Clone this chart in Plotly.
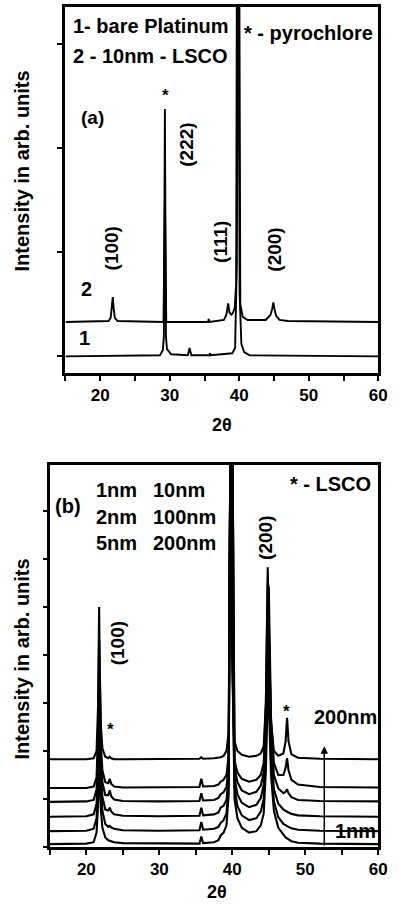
import plotly.graph_objects as go

# ---------------- Panel (a) data ----------------
# Trace 1: bare Platinum
a_x_pt = [15, 28.6, 29.0, 29.15, 29.3, 29.45, 29.6, 30.2, 32.6, 32.85, 33.1, 35.7, 35.8, 35.9,
          39.0, 39.4, 39.65, 39.85, 40.05, 40.3, 40.7, 41.5, 60]
a_y_pt = [0.0, 0.01, 0.06, 0.19, 2.38, 0.19, 0.07, 0.02, 0.01, 0.08, 0.01, 0.01, 0.03, 0.01,
          0.03, 0.08, 0.9, 5.0, 0.6, 0.12, 0.04, 0.01, 0.0]
# Trace 2: 10nm LSCO
a_x_lsco = [15, 21.2, 21.5, 21.65, 21.8, 21.95, 22.1, 22.5, 29.1, 29.3, 29.5, 35.5, 35.6, 35.7,
            37.8, 38.15, 38.4, 38.6, 38.85, 39.1, 39.35, 39.55, 39.7, 39.95, 40.15, 40.5, 41.2,
            43.8, 44.5, 44.75, 44.9, 45.05, 45.3, 45.8, 47, 60]
a_y_lsco = [0.33, 0.34, 0.37, 0.45, 0.57, 0.45, 0.37, 0.34, 0.33, 1.5, 0.33, 0.33, 0.36, 0.33,
            0.35, 0.40, 0.51, 0.42, 0.40, 0.42, 0.47, 0.7, 5.0, 5.0, 0.5, 0.38, 0.35,
            0.35, 0.40, 0.46, 0.52, 0.46, 0.39, 0.35, 0.34, 0.33]

# ---------------- Panel (b) data ----------------
b_x = [15, 20, 21.0, 21.4, 21.6, 21.75, 21.85, 22.0, 22.2, 22.6, 23.0, 23.2, 23.4, 23.8, 25, 30,
       35.5, 35.75, 36.0, 37.5, 38.1, 38.4, 38.8, 39.2, 39.5, 39.75, 40.0, 40.3, 40.7, 41.3, 42.3,
       43.3, 43.9, 44.3, 44.6, 44.85, 45.0, 45.3, 45.7, 46.3, 47.0, 47.3, 47.5, 47.7, 48.1, 49.0,
       52, 60]
b_y_200nm = [1.83, 1.83, 1.85, 2.0, 2.9, 5.0, 3.6, 2.5, 2.05, 1.88, 1.85, 1.88, 1.85, 1.83, 1.83, 1.84,
             1.84, 1.87, 1.84, 1.85, 1.86, 1.87, 1.9, 2.0, 2.4, 9.0, 9.0, 2.2, 2.0, 1.92, 1.88,
             1.9, 1.95, 2.1, 3.0, 5.83, 4.6, 2.6, 2.0, 1.9, 1.95, 2.2, 2.69, 2.2, 1.93, 1.86,
             1.84, 1.83]
b_y_100nm = [1.23, 1.23, 1.26, 1.45, 2.4, 4.3, 3.5, 2.1, 1.6, 1.35, 1.33, 1.42, 1.32, 1.26, 1.24, 1.24,
             1.25, 1.42, 1.26, 1.27, 1.3, 1.36, 1.4, 1.5, 1.9, 9.0, 4.0, 1.8, 1.55, 1.42, 1.36,
             1.4, 1.5, 1.75, 3.0, 5.5, 5.4, 2.7, 1.75, 1.5, 1.5, 1.65, 1.85, 1.6, 1.4, 1.3,
             1.25, 1.24]
b_y_10nm = [0.94, 0.95, 0.98, 1.2, 2.0, 3.4, 3.0, 1.8, 1.35, 1.08, 1.08, 1.18, 1.06, 0.99, 0.96, 0.95,
            0.96, 1.12, 0.97, 0.98, 1.02, 1.1, 1.14, 1.25, 1.7, 9.0, 9.0, 1.65, 1.35, 1.18, 1.1,
            1.15, 1.28, 1.55, 2.7, 5.0, 4.7, 2.4, 1.5, 1.22, 1.12, 1.15, 1.2, 1.12, 1.04, 0.98,
            0.96, 0.95]
b_y_5nm = [0.63, 0.64, 0.68, 0.9, 1.7, 3.0, 2.6, 1.5, 1.05, 0.78, 0.76, 0.82, 0.74, 0.68, 0.65, 0.64,
           0.65, 0.82, 0.66, 0.68, 0.72, 0.82, 0.86, 0.98, 1.5, 9.0, 4.0, 1.45, 1.1, 0.92, 0.83,
           0.88, 1.02, 1.3, 2.4, 4.2, 4.0, 2.1, 1.2, 0.9, 0.78, 0.75, 0.74, 0.72, 0.69, 0.66,
           0.64, 0.63]
b_y_2nm = [0.33, 0.34, 0.38, 0.6, 1.3, 2.5, 2.2, 1.15, 0.75, 0.48, 0.42, 0.44, 0.41, 0.38, 0.35, 0.34,
           0.35, 0.52, 0.36, 0.38, 0.42, 0.5, 0.56, 0.7, 1.3, 9.0, 9.0, 1.25, 0.85, 0.66, 0.56,
           0.6, 0.74, 1.0, 2.0, 3.8, 3.6, 1.8, 0.95, 0.62, 0.48, 0.45, 0.44, 0.42, 0.39, 0.36,
           0.34, 0.33]
b_y_1nm = [0.06, 0.07, 0.1, 0.3, 0.85, 1.6, 1.45, 0.75, 0.4, 0.2, 0.14, 0.13, 0.12, 0.1, 0.08, 0.07,
           0.07, 0.22, 0.08, 0.1, 0.14, 0.24, 0.3, 0.45, 1.1, 9.0, 4.0, 1.0, 0.6, 0.4, 0.3,
           0.33, 0.45, 0.7, 1.6, 3.2, 3.0, 1.5, 0.75, 0.4, 0.25, 0.2, 0.18, 0.16, 0.12, 0.09,
           0.07, 0.06]
b_series = [b_y_1nm, b_y_2nm, b_y_5nm, b_y_10nm, b_y_100nm, b_y_200nm]

x_tickvals = [15, 20, 25, 30, 35, 40, 45, 50, 55, 60]
x_ticktext = ["", "20", "", "30", "", "40", "", "50", "", "60"]

W, H = 400, 904
FONT = "Liberation Sans"


def px(x):
    return x / W


def py(y):
    return 1 - y / H


fig = go.Figure()
line_a = dict(color="black", width=1.9)
fig.add_trace(go.Scatter(x=a_x_pt, y=a_y_pt, mode="lines", line=line_a,
                         xaxis="x", yaxis="y", showlegend=False, hoverinfo="skip"))
fig.add_trace(go.Scatter(x=a_x_lsco, y=a_y_lsco, mode="lines", line=line_a,
                         xaxis="x", yaxis="y", showlegend=False, hoverinfo="skip"))
for ys in b_series:
    fig.add_trace(go.Scatter(x=b_x, y=ys, mode="lines", line=dict(color="black", width=2.1),
                             xaxis="x2", yaxis="y2", showlegend=False, hoverinfo="skip"))

axis_common = dict(showline=True, mirror=True, linecolor="black", linewidth=2.5,
                   showgrid=False, zeroline=False, ticks="outside", tickcolor="black",
                   tickwidth=2)
xfont = dict(family=FONT, size=17, color="black", weight="bold")

fig.update_layout(
    width=W, height=H, autosize=False,
    margin=dict(l=0, r=0, t=0, b=0),
    paper_bgcolor="white", plot_bgcolor="white",
    showlegend=False,
    xaxis=dict(domain=[px(67), px(387)], anchor="y", range=[15, 60],
               tickmode="array", tickvals=x_tickvals, ticktext=x_ticktext,
               ticklen=5, tickfont=xfont, **axis_common),
    yaxis=dict(domain=[py(373), py(7)], anchor="x", range=[-0.16, 3.36],
               tickmode="array", tickvals=[0, 1, 2, 3], showticklabels=False,
               ticklen=6, **axis_common),
    xaxis2=dict(domain=[px(51), px(387)], anchor="y2", range=[15, 60],
                tickmode="array", tickvals=x_tickvals, ticktext=x_ticktext,
                ticklen=5, tickfont=xfont, **axis_common),
    yaxis2=dict(domain=[py(847), py(465)], anchor="x2", range=[0, 7.96],
                tickmode="array", tickvals=[0, 1, 2, 3, 4, 5, 6, 7], showticklabels=False,
                ticklen=4, **axis_common),
)

annots = []


def txt(text, x, y, size=20, xanchor="left", angle=0):
    annots.append(dict(text=text, x=px(x), y=py(y), xref="paper", yref="paper",
                       xanchor=xanchor, yanchor="middle", showarrow=False, textangle=angle,
                       font=dict(family=FONT, size=size, color="black", weight="bold")))


# Panel (a)
txt("1- bare Platinum", 73, 26)
txt("2 - 10nm - LSCO", 73, 56)
txt("* - pyrochlore", 248, 33, size=20)
txt("(a)", 81, 117, size=19)
txt("*", 169, 95, size=17, xanchor="center")
txt("(222)", 190, 145, size=19, xanchor="center", angle=-90)
txt("(100)", 115, 248, size=19, xanchor="center", angle=-90)
txt("(111)", 225, 242, size=19, xanchor="center", angle=-90)
txt("(200)", 280, 250, size=19, xanchor="center", angle=-90)
txt("2", 88, 289, size=20, xanchor="center")
txt("1", 86, 338, size=20, xanchor="center")
txt("Intensity in arb. units", 23, 171, size=20, xanchor="center", angle=-90)
txt("2θ", 227, 425, size=18, xanchor="center")

# Panel (b)
txt("(b)", 54, 506, size=20)
txt("1nm", 96, 490, size=20)
txt("10nm", 154, 490, size=20)
txt("2nm", 96, 517, size=20)
txt("100nm", 154, 517, size=20)
txt("5nm", 96, 543, size=20)
txt("200nm", 154, 543, size=20)
txt("* - LSCO", 382, 484, size=20, xanchor="right")
txt("(200)", 271, 538, size=19, xanchor="center", angle=-90)
txt("(100)", 120, 643, size=19, xanchor="center", angle=-90)
txt("*", 113, 729, size=17, xanchor="center")
txt("*", 293, 711, size=17, xanchor="center")
txt("200nm", 319, 717, size=20)
txt("1nm", 341, 831, size=20)
txt("Intensity in arb. units", 23, 659, size=20, xanchor="center", angle=-90)
txt("2θ", 222, 892, size=18, xanchor="center")

# arrow from 1nm to 200nm
annots.append(dict(x=52.6, y=2.1, ax=52.6, ay=0.0, xref="x2", yref="y2", axref="x2", ayref="y2",
                   showarrow=True, arrowhead=2, arrowsize=1, arrowwidth=1.5, arrowcolor="black",
                   text=""))

fig.update_layout(annotations=annots)
fig.write_html("out.html")
